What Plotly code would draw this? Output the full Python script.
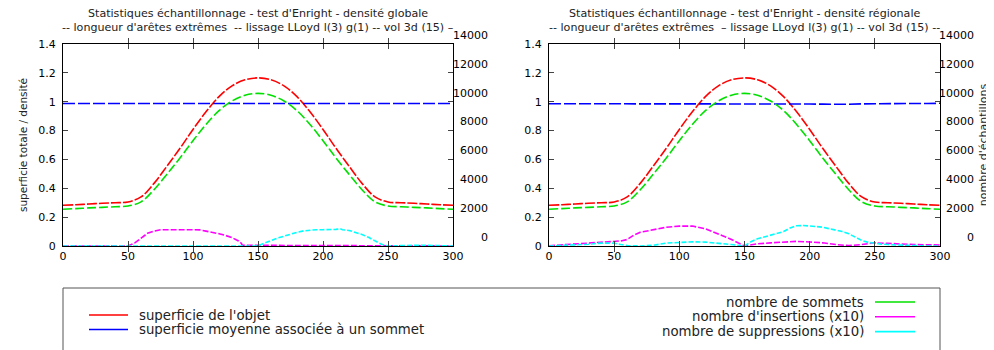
import plotly.graph_objects as go

# ---- data ----
x_full = [0, 10, 20, 30, 40, 50, 60, 70, 80, 90, 100, 110, 120, 130, 140, 150,
          160, 170, 180, 190, 200, 210, 220, 230, 240, 250, 260, 270, 280, 290, 300]

# superficie de l'objet (left axis)
superficie_objet = [0.282, 0.286, 0.291, 0.296, 0.300, 0.305, 0.340, 0.434, 0.554, 0.677,
                    0.808, 0.930, 1.035, 1.110, 1.152, 1.165, 1.152, 1.110, 1.035, 0.930,
                    0.808, 0.677, 0.554, 0.434, 0.340, 0.305, 0.300, 0.296, 0.291, 0.286, 0.282]

# superficie moyenne associee a un sommet (left axis)
superficie_moy_globale = [0.988] * len(x_full)
superficie_moy_regionale = [0.986, 0.986, 0.986, 0.987, 0.986, 0.987, 0.989, 0.988, 0.987, 0.986,
                            0.986, 0.986, 0.986, 0.986, 0.986, 0.986, 0.986, 0.986, 0.985, 0.984,
                            0.984, 0.983, 0.981, 0.982, 0.985, 0.987, 0.987, 0.987, 0.988, 0.988, 0.989]

# nombre de sommets (right axis)
nb_sommets = [2550, 2590, 2640, 2680, 2720, 2770, 3060, 3900, 4980, 6100,
              7300, 8420, 9380, 10050, 10450, 10580, 10450, 10050, 9380, 8420,
              7300, 6100, 4980, 3900, 3060, 2770, 2720, 2680, 2640, 2590, 2550]

# densite globale: insertions / suppressions (x10, right axis)
x_ins_glob = [0, 10, 20, 30, 40, 50, 55, 60, 65, 70, 75, 80, 90, 100, 105, 110, 115, 120,
              125, 130, 135, 137, 138, 145, 148, 150, 200, 250, 300]
ins_glob = [0, 0, 50, 40, 0, 0, 200, 550, 880, 1030, 1120, 1130, 1130, 1130, 1120, 1030, 950, 850,
            730, 580, 350, 200, 50, 50, 0, 0, 0, 0, 0]
x_sup_glob = [0, 50, 100, 150, 155, 160, 165, 170, 175, 180, 185, 190, 195, 200, 205, 210, 213,
              215, 220, 225, 230, 235, 240, 245, 250, 260, 270, 280, 290, 300]
sup_glob = [0, 0, 0, 0, 200, 400, 550, 680, 830, 950, 1050, 1100, 1130, 1130, 1130, 1150, 1200,
            1130, 1080, 950, 800, 600, 350, 120, 0, 50, 50, 50, 0, 0]

# densite regionale: insertions / suppressions (x10, right axis)
x_ins_reg = [0, 10, 20, 30, 40, 50, 55, 60, 65, 70, 80, 90, 100, 105, 110, 120, 130, 140, 150,
             160, 170, 180, 190, 200, 210, 220, 230, 240, 250, 260, 270, 280, 290, 300]
ins_reg = [20, 80, 120, 200, 250, 300, 350, 450, 750, 950, 1150, 1300, 1380, 1400, 1380, 1200,
           850, 450, 0, 150, 220, 280, 320, 280, 220, 100, 30, 100, 220, 180, 120, 100, 80, 70]
x_sup_reg = [0, 10, 20, 30, 40, 50, 55, 60, 70, 80, 90, 100, 110, 120, 130, 140, 150, 155, 160,
             165, 170, 175, 180, 185, 190, 195, 200, 205, 210, 215, 220, 225, 230, 235, 240, 245,
             250, 255, 260, 270, 280, 290, 300]
sup_reg = [0, 30, 80, 120, 200, 200, 100, 30, 0, 50, 200, 270, 290, 270, 200, 100, 0, 300, 500,
           630, 750, 850, 1000, 1250, 1400, 1420, 1400, 1350, 1300, 1200, 1120, 1000, 850, 600,
           380, 250, 180, 130, 100, 50, 20, 0, 0]

names_left = ["superficie de l'objet", "superficie moyenne associée à un sommet"]
names_right = ["nombre de sommets", "nombre d'insertions (x10)", "nombre de suppressions (x10)"]

titles = [["Statistiques échantillonnage - test d'Enright - densité globale",
           "-- longueur d'arêtes extrêmes  -- lissage LLoyd l(3) g(1) -- vol 3d (15) –"],
          ["Statistiques échantillonnage - test d'Enright - densité régionale",
           "-- longueur d'arêtes extrêmes  – lissage LLoyd l(3) g(1) -- vol 3d (15) --"]]

x_ticks = [0, 50, 100, 150, 200, 250, 300]

# ---- styles ----
RED, BLUE, GREEN, MAGENTA, CYAN = "#ff0000", "#0000ff", "#00e000", "#ff00ff", "#00ffff"
FONT = "DejaVu Sans"
W, H = 994, 350
OFF = 8  # the page body keeps its default 8px margin, so map screen pixels back by it


def px(x):
    return (x - OFF) / W


def py(y):
    return 1 - (y - OFF) / H


fig = go.Figure()


def add_panel(xa, ya, ya2, blue, ins_x, ins, sup_x, sup):
    lw = 1.6
    fig.add_trace(go.Scatter(x=x_full, y=superficie_objet, name=names_left[0], mode="lines",
                             line=dict(color=RED, width=lw, dash="10px,2px", shape="spline"),
                             xaxis=xa, yaxis=ya))
    fig.add_trace(go.Scatter(x=x_full, y=blue, name=names_left[1], mode="lines",
                             line=dict(color=BLUE, width=lw, dash="12px,3px"),
                             xaxis=xa, yaxis=ya))
    fig.add_trace(go.Scatter(x=x_full, y=nb_sommets, name=names_right[0], mode="lines",
                             line=dict(color=GREEN, width=lw, dash="9px,3px", shape="spline"),
                             xaxis=xa, yaxis=ya2))
    fig.add_trace(go.Scatter(x=ins_x, y=ins, name=names_right[1], mode="lines",
                             line=dict(color=MAGENTA, width=lw, dash="6px,2px"),
                             xaxis=xa, yaxis=ya2))
    fig.add_trace(go.Scatter(x=sup_x, y=sup, name=names_right[2], mode="lines",
                             line=dict(color=CYAN, width=lw, dash="5px,2px"),
                             xaxis=xa, yaxis=ya2))


add_panel("x", "y", "y2", superficie_moy_globale, x_ins_glob, ins_glob, x_sup_glob, sup_glob)
add_panel("x2", "y3", "y4", superficie_moy_regionale, x_ins_reg, ins_reg, x_sup_reg, sup_reg)

ydom = [py(246), py(44)]
common_x = dict(range=[0, 300], tickvals=x_ticks, ticks="inside", ticklen=5, mirror="allticks",
                showline=True, linecolor="black", linewidth=1, showgrid=False, zeroline=False,
                automargin=False, tickfont=dict(size=11, color="black"))
common_y = dict(range=[0, 1.4], dtick=0.2, ticks="inside", ticklen=5, mirror="allticks",
                showline=True, linecolor="black", linewidth=1, showgrid=False, zeroline=False,
                automargin=False, domain=ydom, tickfont=dict(size=11, color="black"),
                ticklabelstandoff=4)
common_y2 = dict(range=[0, 14000], dtick=2000, tickformat="d", side="right", anchor="free",
                 ticklabelposition="inside", ticklabeloverflow="allow", ticks="",
                 showline=False, showgrid=False, zeroline=False, ticklabelshift=-9,
                 automargin=False, tickfont=dict(size=11, color="black"))

fig.update_layout(
    width=W, height=H, margin=dict(l=0, r=0, t=0, b=0, autoexpand=False),
    paper_bgcolor="white", plot_bgcolor="white",
    font=dict(family=FONT, size=11, color="#222"),
    showlegend=False,
    xaxis=dict(domain=[px(63), px(453)], anchor="y", **common_x),
    xaxis2=dict(domain=[px(549), px(940)], anchor="y3", **common_x),
    yaxis=dict(anchor="x", title=dict(text="superficie totale / densité", standoff=8,
                                      font=dict(size=10.5)), **common_y),
    yaxis3=dict(anchor="x2", **common_y),
    yaxis2=dict(overlaying="y", position=px(491), **common_y2),
    yaxis4=dict(overlaying="y3", position=px(977),
                title=dict(text="nombre d'échantillons", standoff=6, font=dict(size=11)), **common_y2),
)

# panel titles, one annotation per line so the first line stays inside the page
for dom, lines in zip([(63, 453), (549, 940)], titles):
    for yy, txt in zip([13.5, 27.5], lines):
        fig.add_annotation(x=px((dom[0] + dom[1]) / 2), y=py(yy), xref="paper", yref="paper",
                           text=txt, showarrow=False, xanchor="center", yanchor="middle",
                           font=dict(size=11.1, color="#222"))

# key box below the plots
fig.add_shape(type="rect", xref="paper", yref="paper", x0=px(63), x1=px(940), y0=py(370), y1=py(288),
              line=dict(color="#555", width=1))
left_colors = [RED, BLUE]
for i, (name, col) in enumerate(zip(names_left, left_colors)):
    yy = 315 + i * 14.5
    fig.add_shape(type="line", xref="paper", yref="paper", x0=px(89), x1=px(128), y0=py(yy), y1=py(yy),
                  line=dict(color=col, width=1.6))
    fig.add_annotation(x=px(137), y=py(yy), xref="paper", yref="paper", text=name, showarrow=False,
                       xanchor="left", yanchor="middle", font=dict(size=13.3, color="#222"))
right_colors = [GREEN, MAGENTA, CYAN]
for i, (name, col) in enumerate(zip(names_right, right_colors)):
    yy = 302 + i * 14.8
    fig.add_shape(type="line", xref="paper", yref="paper", x0=px(875), x1=px(915), y0=py(yy), y1=py(yy),
                  line=dict(color=col, width=1.6))
    fig.add_annotation(x=px(866), y=py(yy), xref="paper", yref="paper", text=name, showarrow=False,
                       xanchor="right", yanchor="middle", font=dict(size=13.3, color="#222"))

fig.write_html("out.html")
